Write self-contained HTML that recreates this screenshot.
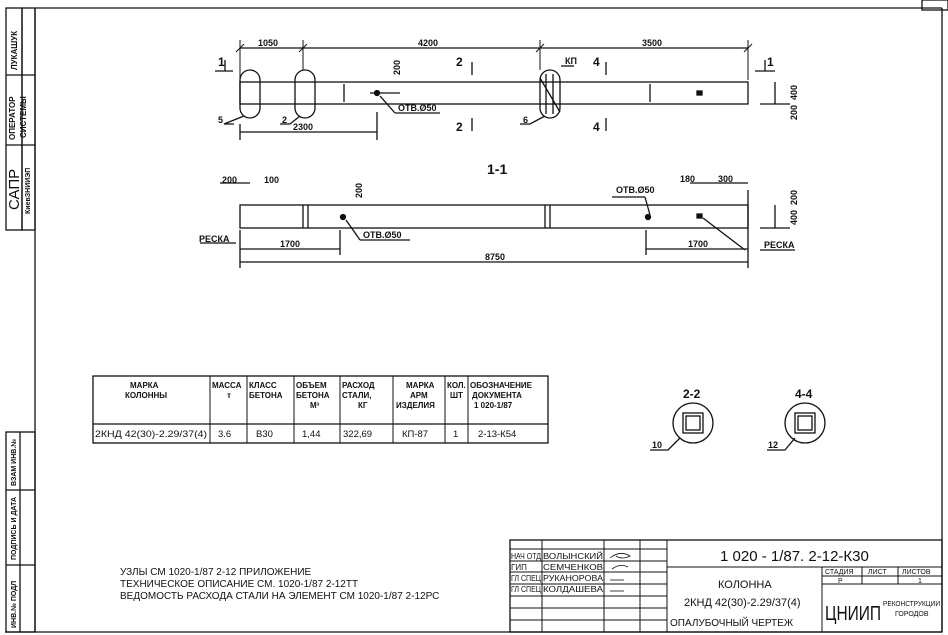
<!DOCTYPE html><html><head><style>body{margin:0;background:#fff}svg{display:block}text{font-family:"Liberation Sans",sans-serif;fill:#111}</style></head><body>
<svg width="948" height="635" viewBox="0 0 948 635" stroke="#111" fill="none" stroke-width="1.3">
<line x1="35" y1="8" x2="942" y2="8"/><line x1="35" y1="8" x2="35" y2="632"/><line x1="942" y1="8" x2="942" y2="632"/><line x1="5" y1="632" x2="942" y2="632"/>
<rect x="922" y="0" width="26" height="10"/>
<rect x="6" y="8" width="16" height="222"/><rect x="22" y="8" width="13" height="222"/>
<line x1="6" y1="75" x2="35" y2="75"/><line x1="6" y1="145" x2="35" y2="145"/>
<rect x="6" y="432" width="29" height="200"/><line x1="20" y1="432" x2="20" y2="632"/>
<line x1="6" y1="490" x2="35" y2="490"/><line x1="6" y1="565" x2="35" y2="565"/>
<g stroke="none" font-size="8" font-weight="bold">
<text transform="translate(17,70) rotate(-90)">ЛУКАШУК</text>
<text transform="translate(15,140) rotate(-90)">ОПЕРАТОР</text><text transform="translate(26,138) rotate(-90)">СИСТЕМЫ</text>
<text transform="translate(19,210) rotate(-90)" font-size="15" font-weight="normal">САПР</text><text transform="translate(30,214) rotate(-90)" font-size="7">КиевЗНИИЭП</text>
<text transform="translate(16,486) rotate(-90)" font-size="7">ВЗАМ ИНВ.№</text>
<text transform="translate(16,560) rotate(-90)" font-size="7">ПОДПИСЬ И ДАТА</text>
<text transform="translate(16,628) rotate(-90)" font-size="7">ИНВ.№ ПОДЛ</text>
</g>
<rect x="240" y="82" width="508" height="22"/>
<line x1="240" y1="48" x2="748" y2="48"/>
<g stroke-width="1"><line x1="240" y1="40" x2="240" y2="80"/><line x1="303" y1="40" x2="303" y2="70"/><line x1="540" y1="40" x2="540" y2="70"/><line x1="748" y1="40" x2="748" y2="80"/>
<line x1="236" y1="52" x2="244" y2="44"/><line x1="299" y1="52" x2="307" y2="44"/><line x1="536" y1="52" x2="544" y2="44"/><line x1="744" y1="52" x2="752" y2="44"/></g>
<rect x="240" y="70" width="20" height="48" rx="10"/><rect x="295" y="70" width="20" height="48" rx="10"/><rect x="540" y="70" width="20" height="48" rx="10"/>
<line x1="540" y1="78" x2="560" y2="112"/><line x1="546" y1="74" x2="546" y2="114"/><line x1="553" y1="74" x2="553" y2="114"/>
<line x1="240" y1="132" x2="377" y2="132"/><line x1="240" y1="124" x2="240" y2="140"/><line x1="377" y1="112" x2="377" y2="140"/>
<line x1="344" y1="84" x2="344" y2="102"/><line x1="650" y1="84" x2="650" y2="102"/>
<circle cx="377" cy="93" r="2.5" fill="#111"/><line x1="370" y1="93" x2="400" y2="93"/>
<line x1="380" y1="96" x2="395" y2="113"/><line x1="395" y1="113" x2="440" y2="113"/>
<rect x="697" y="91" width="5" height="4" fill="#111"/>
<line x1="215" y1="71" x2="233" y2="71"/><line x1="225" y1="60" x2="225" y2="71"/><line x1="755" y1="71" x2="775" y2="71"/><line x1="765" y1="60" x2="765" y2="71"/>
<line x1="472" y1="62" x2="472" y2="75"/><line x1="472" y1="118" x2="472" y2="131"/><line x1="606" y1="62" x2="606" y2="75"/><line x1="606" y1="118" x2="606" y2="131"/>
<line x1="775" y1="82" x2="775" y2="104"/><line x1="760" y1="104" x2="790" y2="104"/>
<polyline points="234,124 224,124 244,116"/><polyline points="280,124 290,124 300,116"/><polyline points="520,124 530,124 545,116"/>
<polyline points="561,66 568,66 574,66"/>
<rect x="240" y="205" width="508" height="23"/>
<line x1="303" y1="205" x2="303" y2="228"/><line x1="308" y1="205" x2="308" y2="228"/><line x1="545" y1="205" x2="545" y2="228"/><line x1="550" y1="205" x2="550" y2="228"/>
<circle cx="343" cy="217" r="2.5" fill="#111"/><circle cx="648" cy="217" r="2.5" fill="#111"/>
<rect x="697" y="214" width="5" height="4" fill="#111"/>
<line x1="240" y1="262" x2="748" y2="262"/><line x1="240" y1="249" x2="340" y2="249"/><line x1="646" y1="249" x2="748" y2="249"/>
<line x1="240" y1="230" x2="240" y2="268"/><line x1="748" y1="190" x2="748" y2="268"/><line x1="340" y1="230" x2="340" y2="255"/><line x1="646" y1="230" x2="646" y2="255"/>
<line x1="220" y1="183" x2="250" y2="183"/><line x1="690" y1="183" x2="748" y2="183"/>
<line x1="645" y1="197" x2="612" y2="197"/><line x1="645" y1="197" x2="650" y2="215"/>
<line x1="346" y1="220" x2="360" y2="240"/><line x1="360" y1="240" x2="410" y2="240"/>
<line x1="200" y1="243" x2="236" y2="243"/><line x1="703" y1="218" x2="745" y2="250"/><line x1="760" y1="250" x2="795" y2="250"/>
<line x1="775" y1="205" x2="775" y2="228"/><line x1="760" y1="228" x2="790" y2="228"/>
<g stroke="none" font-size="9" font-weight="bold">
<text x="258" y="46">1050</text><text x="418" y="46">4200</text><text x="642" y="46">3500</text>
<text x="293" y="130">2300</text><text x="398" y="111">ОТВ.Ø50</text><text x="565" y="64">КП</text>
<text x="218" y="66" font-size="12">1</text><text x="767" y="66" font-size="12">1</text>
<text x="456" y="66" font-size="12">2</text><text x="456" y="131" font-size="12">2</text><text x="593" y="66" font-size="12">4</text><text x="593" y="131" font-size="12">4</text>
<text x="218" y="123">5</text><text x="282" y="123">2</text><text x="523" y="123">6</text>
<text x="487" y="174" font-size="14">1-1</text>
<text x="222" y="183">200</text><text x="264" y="183">100</text><text x="680" y="182">180</text><text x="718" y="182">300</text>
<text x="616" y="193">ОТВ.Ø50</text><text x="363" y="238">ОТВ.Ø50</text>
<text x="199" y="242">РЕСКА</text><text x="764" y="248">РЕСКА</text>
<text x="280" y="247">1700</text><text x="688" y="247">1700</text><text x="485" y="260">8750</text>
<text transform="translate(400,75) rotate(-90)">200</text><text transform="translate(362,198) rotate(-90)">200</text>
<text transform="translate(797,120) rotate(-90)">200</text><text transform="translate(797,100) rotate(-90)">400</text>
<text transform="translate(797,205) rotate(-90)">200</text><text transform="translate(797,225) rotate(-90)">400</text>
</g>
<rect x="93" y="376" width="455" height="67"/><line x1="93" y1="424" x2="548" y2="424"/>
<g stroke-width="1"><line x1="210" y1="376" x2="210" y2="443"/><line x1="247" y1="376" x2="247" y2="443"/><line x1="294" y1="376" x2="294" y2="443"/><line x1="340" y1="376" x2="340" y2="443"/><line x1="393" y1="376" x2="393" y2="443"/><line x1="445" y1="376" x2="445" y2="443"/><line x1="468" y1="376" x2="468" y2="443"/></g>
<g stroke="none" font-size="8" font-weight="bold">
<text x="130" y="388">МАРКА</text><text x="125" y="398">КОЛОННЫ</text>
<text x="212" y="388">МАССА</text><text x="227" y="398">т</text>
<text x="249" y="388">КЛАСС</text><text x="249" y="398">БЕТОНА</text>
<text x="296" y="388">ОБЪЕМ</text><text x="296" y="398">БЕТОНА</text><text x="310" y="408">М³</text>
<text x="342" y="388">РАСХОД</text><text x="342" y="398">СТАЛИ,</text><text x="358" y="408">КГ</text>
<text x="406" y="388">МАРКА</text><text x="410" y="398">АРМ</text><text x="396" y="408">ИЗДЕЛИЯ</text>
<text x="447" y="388">КОЛ.</text><text x="450" y="398">ШТ</text>
<text x="470" y="388">ОБОЗНАЧЕНИЕ</text><text x="472" y="398">ДОКУМЕНТА</text><text x="474" y="408">1 020-1/87</text>
</g>
<g stroke="none" font-size="9.5">
<text x="95" y="437" textLength="112" lengthAdjust="spacingAndGlyphs">2КНД 42(30)-2.29/37(4)</text><text x="218" y="437">3.6</text><text x="256" y="437">В30</text><text x="302" y="437">1,44</text><text x="343" y="437">322,69</text><text x="402" y="437">КП-87</text><text x="453" y="437">1</text><text x="478" y="437">2-13-К54</text>
</g>
<circle cx="693" cy="423" r="20"/><rect x="683" y="413" width="20" height="20"/><rect x="686" y="416" width="14" height="14"/>
<circle cx="805" cy="423" r="20"/><rect x="795" y="413" width="20" height="20"/><rect x="798" y="416" width="14" height="14"/>
<polyline points="650,450 668,450 680,438"/><polyline points="767,450 785,450 795,438"/>
<g stroke="none" font-size="12" font-weight="bold"><text x="683" y="398">2-2</text><text x="795" y="398">4-4</text><text x="652" y="448" font-size="9">10</text><text x="768" y="448" font-size="9">12</text></g>
<rect x="510" y="540" width="432" height="92"/>
<g stroke-width="1">
<line x1="510" y1="549" x2="667" y2="549"/><line x1="510" y1="561" x2="667" y2="561"/><line x1="510" y1="572" x2="667" y2="572"/><line x1="510" y1="584" x2="667" y2="584"/><line x1="510" y1="596" x2="667" y2="596"/><line x1="510" y1="608" x2="667" y2="608"/><line x1="510" y1="620" x2="667" y2="620"/>
<line x1="542" y1="540" x2="542" y2="632"/><line x1="604" y1="540" x2="604" y2="632"/><line x1="640" y1="540" x2="640" y2="632"/><line x1="667" y1="540" x2="667" y2="632"/>
<line x1="667" y1="567" x2="942" y2="567"/><line x1="822" y1="567" x2="822" y2="632"/><line x1="822" y1="576" x2="942" y2="576"/><line x1="822" y1="584" x2="942" y2="584"/><line x1="862" y1="567" x2="862" y2="584"/><line x1="898" y1="567" x2="898" y2="584"/>
</g>
<path d="M610 558 q10 -8 20 -2 q-8 4 -14 0" stroke-width="0.8"/><path d="M612 569 q8 -6 16 -2" stroke-width="0.8"/><path d="M610 580 h14" stroke-width="0.8"/><path d="M610 591 h14" stroke-width="0.8"/>
<g stroke="none" font-size="8">
<text x="511" y="559" textLength="30" lengthAdjust="spacingAndGlyphs">НАЧ ОТД</text><text x="543" y="559" textLength="60" lengthAdjust="spacingAndGlyphs">ВОЛЫНСКИЙ</text>
<text x="511" y="570">ГИП</text><text x="543" y="570" textLength="60" lengthAdjust="spacingAndGlyphs">СЕМЧЕНКОВ</text>
<text x="511" y="581" textLength="30" lengthAdjust="spacingAndGlyphs">ГЛ СПЕЦ</text><text x="543" y="581" textLength="60" lengthAdjust="spacingAndGlyphs">РУКАНОРОВА</text>
<text x="511" y="592" textLength="30" lengthAdjust="spacingAndGlyphs">ГЛ СПЕЦ</text><text x="543" y="592" textLength="60" lengthAdjust="spacingAndGlyphs">КОЛДАШЕВА</text>
<text x="720" y="561" font-size="15">1 020 - 1/87. 2-12-К30</text>
<text x="718" y="588" font-size="11">КОЛОННА</text>
<text x="684" y="606" font-size="11">2КНД 42(30)-2.29/37(4)</text>
<text x="670" y="626" font-size="10">ОПАЛУБОЧНЫЙ ЧЕРТЕЖ</text>
<text x="825" y="574" font-size="7">СТАДИЯ</text><text x="868" y="574" font-size="7">ЛИСТ</text><text x="902" y="574" font-size="7">ЛИСТОВ</text>
<text x="838" y="583" font-size="7">Р</text><text x="918" y="583" font-size="7">1</text>
<text x="825" y="620" font-size="20" textLength="56" lengthAdjust="spacingAndGlyphs">ЦНИИП</text><text x="883" y="606" font-size="7" textLength="57" lengthAdjust="spacingAndGlyphs">РЕКОНСТРУКЦИИ</text><text x="895" y="616" font-size="7">ГОРОДОВ</text>
<text x="120" y="575" font-size="10">УЗЛЫ СМ 1020-1/87 2-12 ПРИЛОЖЕНИЕ</text>
<text x="120" y="587" font-size="10">ТЕХНИЧЕСКОЕ ОПИСАНИЕ СМ. 1020-1/87 2-12ТТ</text>
<text x="120" y="599" font-size="10">ВЕДОМОСТЬ РАСХОДА СТАЛИ НА ЭЛЕМЕНТ СМ 1020-1/87 2-12РС</text>
</g>
</svg></body></html>
